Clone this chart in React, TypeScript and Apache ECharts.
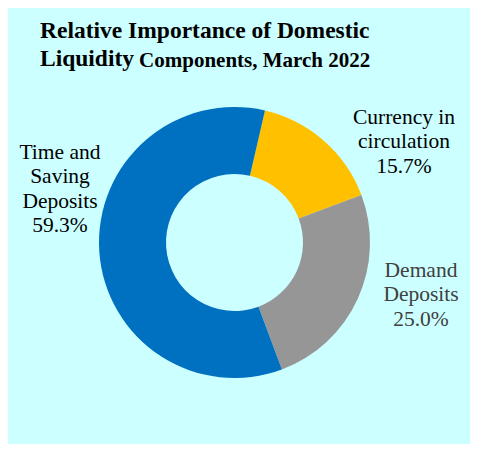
import React, { useEffect, useRef } from "react";
import * as echarts from "echarts";

const categories: string[] = [
  "Currency in\ncirculation",
  "Demand\nDeposits",
  "Time and\nSaving\nDeposits",
];
const shares: number[] = [15.7, 25.0, 59.3];
const colors: string[] = ["#FFC000", "#969696", "#0070C0"];
const labelColors: string[] = ["#000000", "#404040", "#000000"];
const titleLine1 = "Relative Importance of Domestic";
const titleLine2a = "Liquidity";
const titleLine2b = "Components, March 2022";

const SERIF = "'Liberation Serif', 'Times New Roman', serif";

export default function App() {
  const ref = useRef<HTMLDivElement>(null);
  useEffect(() => {
    if (!ref.current) return;
    const chart = echarts.init(ref.current, undefined, { renderer: "svg" });
    const labelPos: [number, number][] = [
      [396, 133],
      [413, 286],
      [52, 180.5],
    ];
    chart.setOption({
      animation: false,
      backgroundColor: "#CCFFFF",
      title: {
        left: 32,
        top: 6,
        padding: 0,
        text: `{a|${titleLine1}}\n{a|${titleLine2a}} {b|${titleLine2b}}`,
        textStyle: {
          rich: {
            a: {
              fontFamily: SERIF,
              fontSize: 23.5,
              fontWeight: "bold",
              color: "#000",
              lineHeight: 28,
              verticalAlign: "bottom",
            },
            b: {
              fontFamily: SERIF,
              fontSize: 21,
              fontWeight: "bold",
              color: "#000",
              lineHeight: 28,
              verticalAlign: "bottom",
            },
          },
        },
      },
      series: [
        {
          type: "pie",
          center: [226.5, 234.5],
          radius: [68.5, 135.5],
          startAngle: 77,
          clockwise: true,
          avoidLabelOverlap: false,
          labelLine: { show: false },
          label: {
            show: true,
            position: "outside",
            fontFamily: SERIF,
            fontSize: 21.5,
            lineHeight: 24.5,
            align: "center",
            formatter: (p: any) => `${p.name}\n${Number(p.value).toFixed(1)}%`,
          },
          labelLayout: (p: any) => ({
            x: labelPos[p.dataIndex][0],
            y: labelPos[p.dataIndex][1],
            align: "center",
            verticalAlign: "middle",
          }),
          emphasis: { disabled: true },
          data: categories.map((name, i) => ({
            name,
            value: shares[i],
            itemStyle: { color: colors[i] },
            label: { color: labelColors[i] },
          })),
        },
      ],
    });
    return () => chart.dispose();
  }, []);
  return (
    <div
      ref={ref}
      style={{ width: 470, height: 444, marginBottom: -8 }}
    />
  );
}
